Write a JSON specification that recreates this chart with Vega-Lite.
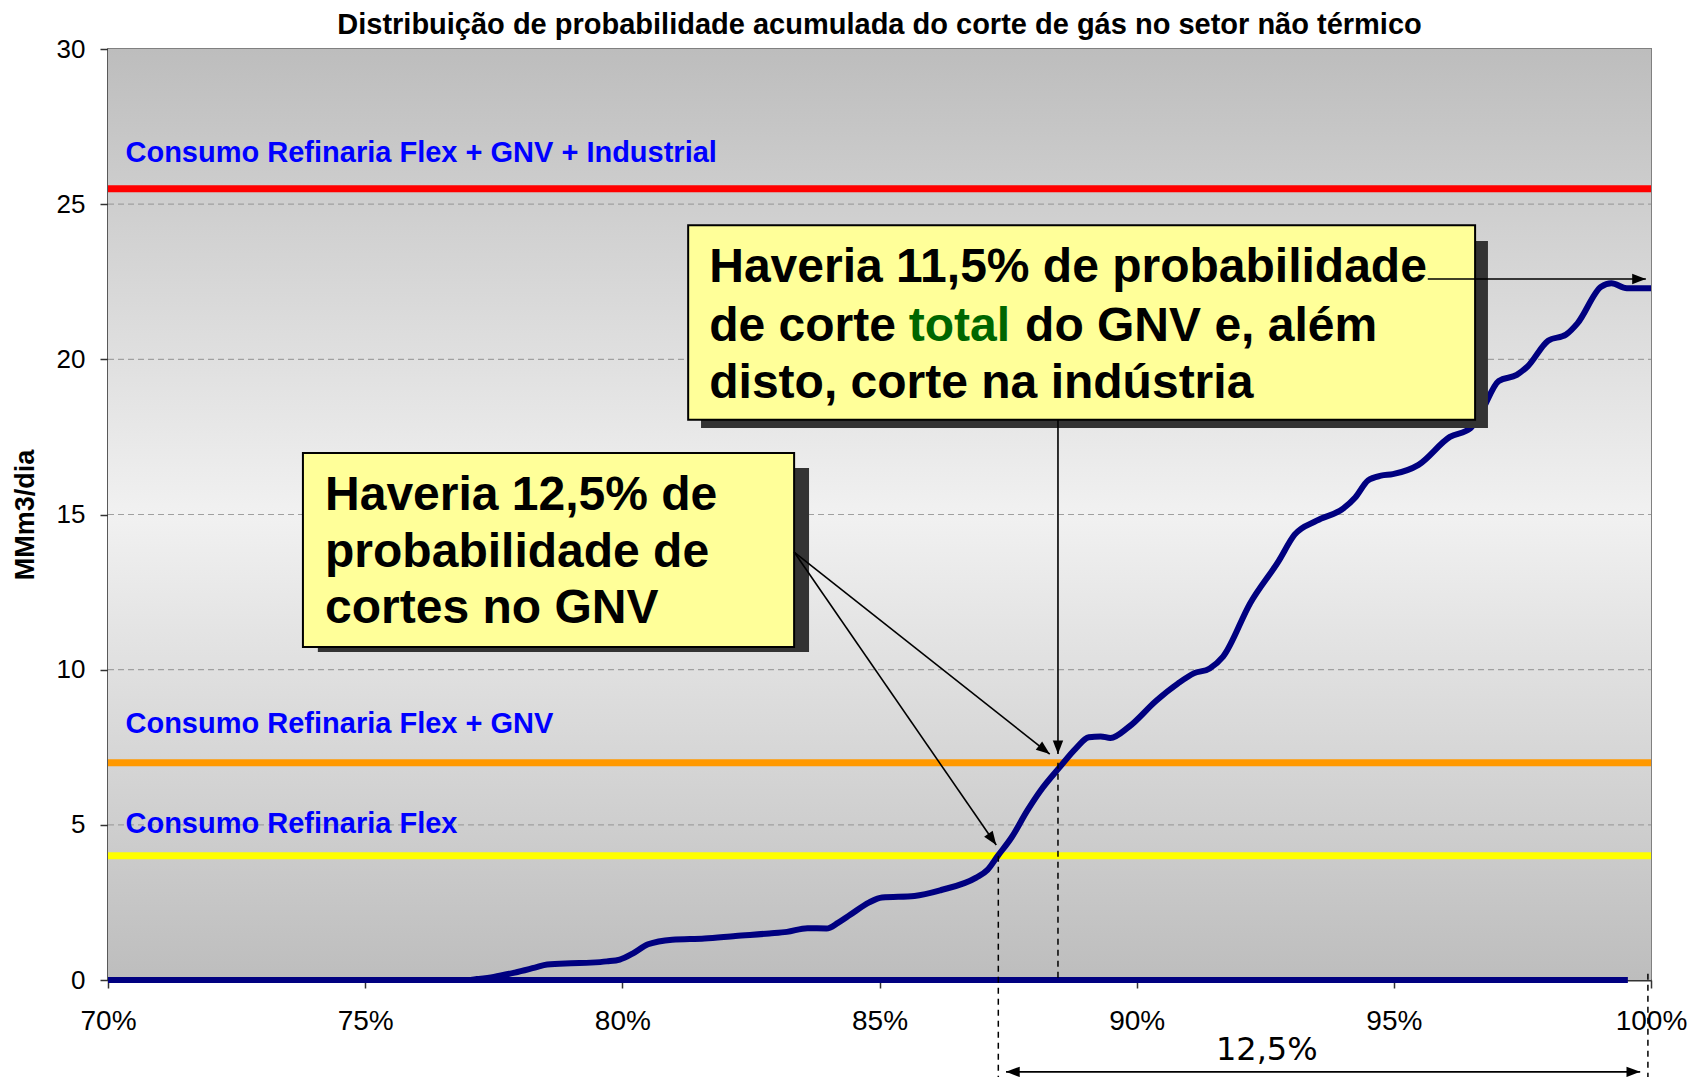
{
  "$schema": "https://vega.github.io/schema/vega-lite/v6.json",
  "width": 1543,
  "height": 931,
  "autosize": {"type": "none"},
  "padding": {"left": 108, "top": 49, "right": 41, "bottom": 97},
  "background": "white",
  "title": {
    "text": "Distribuição de probabilidade acumulada do corte de gás no setor não térmico",
    "font": "Liberation Sans",
    "fontSize": 29,
    "fontWeight": "bold",
    "color": "#000000",
    "anchor": "middle",
    "offset": -4
  },
  "config": {
    "font": "Liberation Sans",
    "view": {"stroke": "#808080", "strokeWidth": 2}
  },
  "datasets": {
    "bg": [{"x": 70, "x2": 100, "y": 0, "y2": 30}],
    "grid": [
      {"x": 70, "x2": 100, "y": 5}, {"x": 70, "x2": 100, "y": 10}, {"x": 70, "x2": 100, "y": 15},
      {"x": 70, "x2": 100, "y": 20}, {"x": 70, "x2": 100, "y": 25}
    ],
    "refs": [
      {"x": 70, "x2": 100, "y": 25.5, "serie": "Industrial"},
      {"x": 70, "x2": 100, "y": 7.0, "serie": "GNV"},
      {"x": 70, "x2": 100, "y": 4.0, "serie": "Flex"}
    ],
    "zero": [{"x": 70, "x2": 99.55, "y": 0}],
    "curve": [
      {"x": 70, "y": 0}, {"x": 72, "y": 0}, {"x": 74, "y": 0}, {"x": 76, "y": 0},
      {"x": 77.0, "y": 0}, {"x": 77.17, "y": 0.03}, {"x": 77.5, "y": 0.1},
      {"x": 77.91, "y": 0.24}, {"x": 78.3, "y": 0.4}, {"x": 78.54, "y": 0.5},
      {"x": 79.0, "y": 0.54}, {"x": 79.39, "y": 0.56}, {"x": 79.7, "y": 0.6},
      {"x": 79.95, "y": 0.66}, {"x": 80.2, "y": 0.85}, {"x": 80.5, "y": 1.15},
      {"x": 80.97, "y": 1.3}, {"x": 81.6, "y": 1.34}, {"x": 82.2, "y": 1.42},
      {"x": 82.86, "y": 1.5}, {"x": 83.2, "y": 1.55}, {"x": 83.6, "y": 1.67},
      {"x": 83.97, "y": 1.66}, {"x": 84.2, "y": 1.85}, {"x": 84.43, "y": 2.1},
      {"x": 84.8, "y": 2.5}, {"x": 85.05, "y": 2.66}, {"x": 85.68, "y": 2.71},
      {"x": 86.2, "y": 2.9}, {"x": 86.88, "y": 3.3}, {"x": 87.1, "y": 3.55},
      {"x": 87.3, "y": 4.0}, {"x": 87.57, "y": 4.6}, {"x": 87.87, "y": 5.45},
      {"x": 88.13, "y": 6.1}, {"x": 88.5, "y": 6.85}, {"x": 88.81, "y": 7.45},
      {"x": 89.07, "y": 7.82}, {"x": 89.3, "y": 7.85}, {"x": 89.49, "y": 7.8},
      {"x": 89.85, "y": 8.16}, {"x": 90.38, "y": 9.0}, {"x": 90.8, "y": 9.55},
      {"x": 91.11, "y": 9.88}, {"x": 91.42, "y": 10.04}, {"x": 91.68, "y": 10.42},
      {"x": 92.21, "y": 12.15}, {"x": 92.76, "y": 13.5}, {"x": 93.07, "y": 14.35},
      {"x": 93.5, "y": 14.8}, {"x": 94.02, "y": 15.2}, {"x": 94.25, "y": 15.55},
      {"x": 94.5, "y": 16.1}, {"x": 94.75, "y": 16.25}, {"x": 94.98, "y": 16.3},
      {"x": 95.48, "y": 16.6}, {"x": 96.09, "y": 17.5}, {"x": 96.49, "y": 17.78},
      {"x": 96.69, "y": 18.27}, {"x": 97.04, "y": 19.3}, {"x": 97.39, "y": 19.5},
      {"x": 97.6, "y": 19.77}, {"x": 98.0, "y": 20.6}, {"x": 98.35, "y": 20.8},
      {"x": 98.57, "y": 21.16}, {"x": 99.03, "y": 22.34}, {"x": 99.23, "y": 22.45},
      {"x": 99.53, "y": 22.29}, {"x": 100.0, "y": 22.29}
    ],
    "dashed": [
      {"x": 87.31, "y": 4.0, "y2": -3.13},
      {"x": 88.47, "y": 7.0, "y2": 0},
      {"x": 99.94, "y": 0.2, "y2": -3.13}
    ],
    "shadows": [
      {"x": 81.53, "x2": 96.83, "y": 23.81, "y2": 17.79},
      {"x": 74.08, "x2": 83.63, "y": 16.5, "y2": 10.57}
    ],
    "boxes": [
      {"x": 81.28, "x2": 96.58, "y": 24.32, "y2": 18.05},
      {"x": 73.79, "x2": 83.34, "y": 16.98, "y2": 10.73}
    ],
    "boxtext": [
      {"x": 81.69, "y": 22.49, "t": "Haveria 11,5% de probabilidade", "k": "normal"},
      {"x": 81.69, "y": 20.6, "t": "de corte", "k": "normal"},
      {"x": 85.57, "y": 20.6, "t": "total", "k": "destaque"},
      {"x": 87.83, "y": 20.6, "t": "do GNV e, além", "k": "normal"},
      {"x": 81.69, "y": 18.76, "t": "disto, corte na indústria", "k": "normal"},
      {"x": 74.22, "y": 15.15, "t": "Haveria 12,5% de", "k": "normal"},
      {"x": 74.22, "y": 13.31, "t": "probabilidade de", "k": "normal"},
      {"x": 74.22, "y": 11.5, "t": "cortes no GNV", "k": "normal"}
    ],
    "arrows": [
      {"x": 95.66, "y": 22.59, "x2": 99.9, "y2": 22.59},
      {"x": 88.47, "y": 18.05, "x2": 88.47, "y2": 7.28},
      {"x": 83.34, "y": 13.79, "x2": 88.31, "y2": 7.28},
      {"x": 83.34, "y": 13.79, "x2": 87.27, "y2": 4.35},
      {"x": 87.46, "y": -2.96, "x2": 99.79, "y2": -2.96}
    ],
    "heads": [
      {"x": 99.9, "y": 22.59, "dir": 90},
      {"x": 88.47, "y": 7.28, "dir": 180},
      {"x": 88.31, "y": 7.28, "dir": 128},
      {"x": 87.27, "y": 4.35, "dir": 145},
      {"x": 87.46, "y": -2.96, "dir": 270},
      {"x": 99.79, "y": -2.96, "dir": 90}
    ],
    "labels": [
      {"x": 70.34, "y": 26.35, "t": "Consumo Refinaria Flex + GNV + Industrial"},
      {"x": 70.34, "y": 7.97, "t": "Consumo Refinaria Flex + GNV"},
      {"x": 70.34, "y": 4.73, "t": "Consumo Refinaria Flex"}
    ],
    "span": [{"x": 92.53, "y": -2.26, "t": "12,5%"}]
  },
  "encoding": {
    "x": {
      "field": "x", "type": "quantitative",
      "scale": {"domain": [70, 100], "nice": false, "zero": false},
      "axis": {
        "values": [70, 75, 80, 85, 90, 95, 100],
        "labelExpr": "datum.value + '%'",
        "title": null,
        "grid": false,
        "labelFontSize": 28,
        "labelColor": "#000000",
        "labelPadding": 19,
        "labelFlush": false,
        "labelOverlap": false,
        "tickSize": 8,
        "tickColor": "#333333",
        "tickWidth": 1.5,
        "domainColor": "#333333",
        "domainWidth": 2
      }
    },
    "y": {
      "field": "y", "type": "quantitative",
      "scale": {"domain": [0, 30], "nice": false, "zero": false},
      "axis": {
        "values": [0, 5, 10, 15, 20, 25, 30],
        "title": "MMm3/dia",
        "titleFontSize": 27,
        "titleFontWeight": "bold",
        "titleColor": "#000000",
        "titlePadding": 17,
        "grid": false,
        "labelFontSize": 26,
        "labelColor": "#000000",
        "labelPadding": 15,
        "labelFlush": false,
        "labelOverlap": false,
        "tickSize": 8,
        "tickColor": "#333333",
        "tickWidth": 1.5,
        "domainColor": "#333333",
        "domainWidth": 2
      }
    }
  },
  "layer": [
    {
      "data": {"name": "bg"},
      "mark": {
        "type": "rect",
        "fill": {
          "gradient": "linear",
          "x1": 0, "y1": 0, "x2": 0, "y2": 1,
          "stops": [
            {"offset": 0, "color": "#bdbdbd"},
            {"offset": 0.5, "color": "#f1f1f1"},
            {"offset": 1, "color": "#bdbdbd"}
          ]
        }
      },
      "encoding": {"x2": {"field": "x2"}, "y2": {"field": "y2"}}
    },
    {
      "data": {"name": "grid"},
      "mark": {"type": "rule", "stroke": "#a0a0a0", "strokeWidth": 1.2, "strokeDash": [6, 4]},
      "encoding": {"x2": {"field": "x2"}}
    },
    {
      "data": {"name": "refs"},
      "mark": {"type": "rule", "strokeWidth": 7},
      "encoding": {
        "x2": {"field": "x2"},
        "color": {
          "field": "serie", "type": "nominal",
          "scale": {"domain": ["Industrial", "GNV", "Flex"], "range": ["#ff0000", "#ff9900", "#ffff00"]},
          "legend": null
        }
      }
    },
    {
      "data": {"name": "zero"},
      "mark": {"type": "rule", "stroke": "#000080", "strokeWidth": 6},
      "encoding": {"x2": {"field": "x2"}}
    },
    {
      "data": {"name": "curve"},
      "mark": {"type": "line", "stroke": "#000080", "strokeWidth": 6, "interpolate": "monotone"},
      "encoding": {}
    },
    {
      "data": {"name": "dashed"},
      "mark": {"type": "rule", "stroke": "#000000", "strokeWidth": 1.5, "strokeDash": [6, 5]},
      "encoding": {"y2": {"field": "y2"}}
    },
    {
      "data": {"name": "shadows"},
      "mark": {"type": "rect", "fill": "#333333"},
      "encoding": {"x2": {"field": "x2"}, "y2": {"field": "y2"}}
    },
    {
      "data": {"name": "boxes"},
      "mark": {"type": "rect", "fill": "#ffff99", "stroke": "#000000", "strokeWidth": 2},
      "encoding": {"x2": {"field": "x2"}, "y2": {"field": "y2"}}
    },
    {
      "data": {"name": "boxtext"},
      "transform": [{"filter": "datum.k == 'normal'"}],
      "mark": {"type": "text", "align": "left", "baseline": "alphabetic", "fontSize": 48, "fontWeight": "bold", "font": "Liberation Sans", "color": "#000000"},
      "encoding": {"text": {"field": "t"}}
    },
    {
      "data": {"name": "boxtext"},
      "transform": [{"filter": "datum.k == 'destaque'"}],
      "mark": {"type": "text", "align": "left", "baseline": "alphabetic", "fontSize": 48, "fontWeight": "bold", "font": "Liberation Sans", "color": "#006600"},
      "encoding": {"text": {"field": "t"}}
    },
    {
      "data": {"name": "arrows"},
      "mark": {"type": "rule", "stroke": "#000000", "strokeWidth": 1.6},
      "encoding": {"x2": {"field": "x2"}, "y2": {"field": "y2"}}
    },
    {
      "data": {"name": "heads"},
      "mark": {"type": "point", "shape": "M0,0L-0.38,1L0.38,1Z", "size": 750, "filled": true, "fill": "#000000", "opacity": 1, "strokeWidth": 0},
      "encoding": {"angle": {"field": "dir", "type": "quantitative", "scale": null}}
    },
    {
      "data": {"name": "labels"},
      "mark": {"type": "text", "align": "left", "baseline": "alphabetic", "fontSize": 29, "fontWeight": "bold", "font": "Liberation Sans", "color": "#0000ff"},
      "encoding": {"text": {"field": "t"}}
    },
    {
      "data": {"name": "span"},
      "mark": {"type": "text", "align": "center", "baseline": "middle", "fontSize": 32, "font": "DejaVu Sans", "color": "#000000"},
      "encoding": {"text": {"field": "t"}}
    }
  ]
}
